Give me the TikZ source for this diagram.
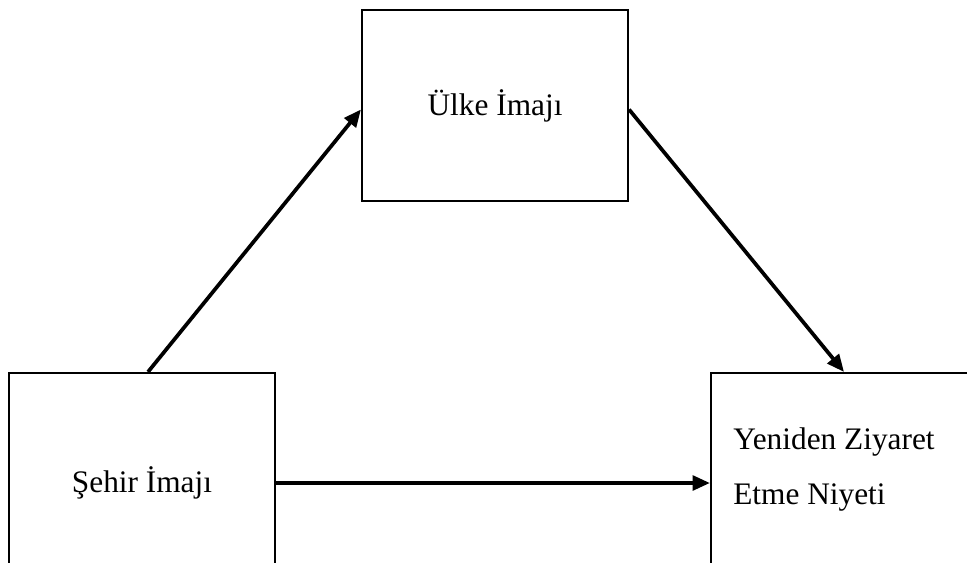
\documentclass[tikz,border=0pt]{standalone}
\usepackage{fontspec}
\setmainfont{Liberation Serif}
\usepackage{tikz}
\usetikzlibrary{arrows.meta}

\begin{document}
\begin{tikzpicture}[x=0.75pt, y=-0.75pt,
        kutu/.style={draw, line width=1.6pt, minimum width=199.5pt, inner sep=0pt, font=\fontsize{23.5pt}{28pt}\selectfont},
        ok/.style={-{Triangle[length=13pt, width=11pt]}, line width=2.8pt}]
        \useasboundingbox (0,0) rectangle (967,563);
        \clip (0,0) rectangle (967,563);
        \node[kutu, minimum height=143.25pt] (ulke) at (495,105.5) {Ülke İmajı};
        \node[kutu, minimum height=165pt] (sehir) at (142,483) {Şehir İmajı};
        \node[kutu, minimum height=165pt] (niyet) at (844,483) {};
        \node[anchor=west, align=left, xshift=14pt, yshift=10pt, font=\fontsize{23.5pt}{41pt}\selectfont] (niyetyazi) at (niyet.west) {Yeniden Ziyaret\\Etme Niyeti};
        \draw[ok] ([xshift=4.5pt]sehir.north) -- ([yshift=-3pt]ulke.west);
        \draw[ok] ([yshift=-3pt]ulke.east) -- (niyet.north);
        \draw[ok] (sehir.east) -- (niyet.west);
    \end{tikzpicture}
\end{document}
